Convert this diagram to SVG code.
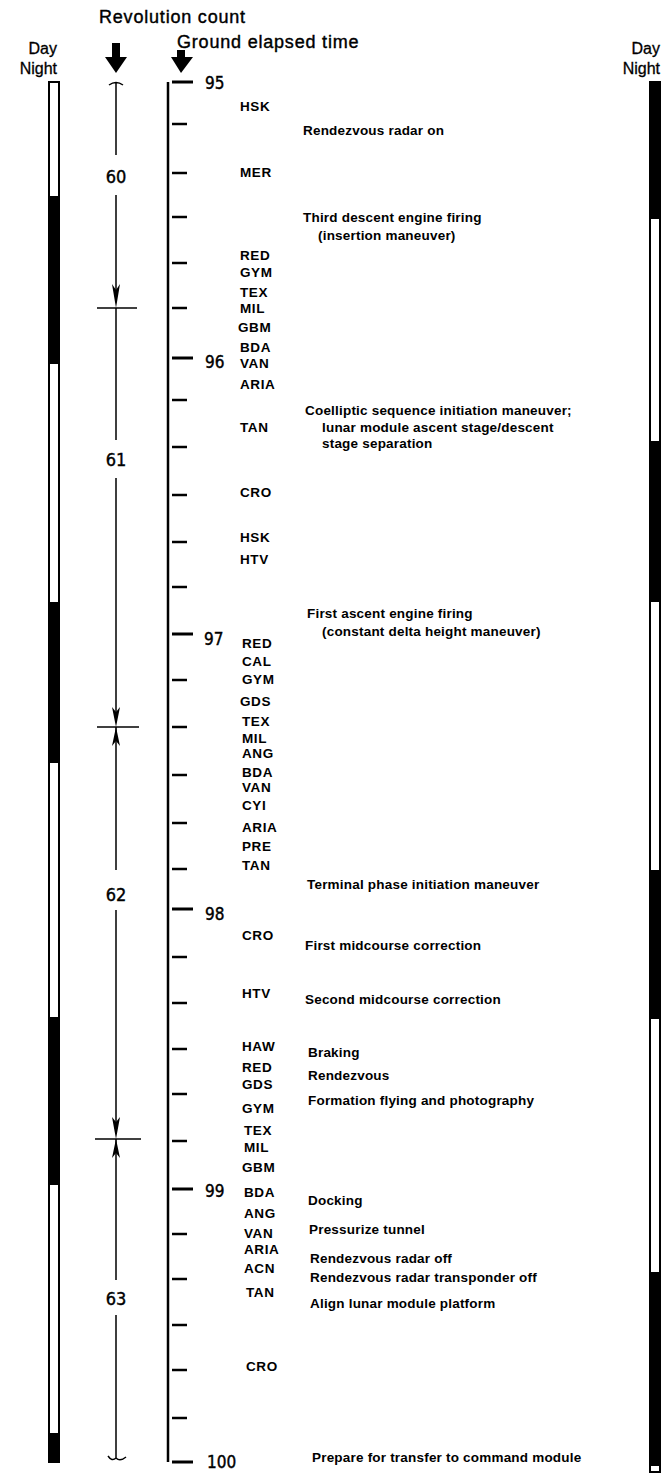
<svg xmlns="http://www.w3.org/2000/svg" width="663" height="1474" viewBox="0 0 663 1474">
<style>
text{fill:#000}
.hdr{font-family:"Liberation Sans",Arial,sans-serif;font-size:18px;font-weight:normal;letter-spacing:0.8px;stroke:#000;stroke-width:0.4}
.dn{font-family:"Liberation Sans",Arial,sans-serif;font-size:16px;text-anchor:end;stroke:#000;stroke-width:0.3}
.num{font-family:"DejaVu Sans Condensed","Liberation Sans Narrow","Liberation Sans",sans-serif;font-size:17px;font-weight:normal;stroke:#000;stroke-width:0.4}
.rev{font-family:"DejaVu Sans Condensed","Liberation Sans Narrow","Liberation Sans",sans-serif;font-size:18px;font-weight:normal;text-anchor:middle;stroke:#000;stroke-width:0.4}
.code{font-family:"Liberation Sans",Arial,sans-serif;font-size:13.5px;font-weight:bold;letter-spacing:0.6px}
.ev{font-family:"Liberation Sans",Arial,sans-serif;font-size:13.5px;font-weight:bold;letter-spacing:0.2px}
.bar{fill:#fff;stroke:#000;stroke-width:2}
.night{fill:#000}
.ln{stroke:#000;stroke-width:1.5;fill:none}
.axis{stroke:#000;stroke-width:2.5}
.maj{stroke:#000;stroke-width:3}
.min{stroke:#000;stroke-width:2.5}
</style>
<g id="headers">
<text class="hdr" x="99" y="23">Revolution count</text>
<text class="hdr" x="177" y="48">Ground elapsed time</text>
<text class="dn" x="57" y="54">Day</text>
<text class="dn" x="57" y="74">Night</text>
<text class="dn" x="660" y="54">Day</text>
<text class="dn" x="660" y="74">Night</text>
<path d="M112,43 H120 V57 H127 L116,73 L105,57 H112 Z" fill="#000"/>
<path d="M177,50 H185 V57 H193 L181,73 L171,57 H177 Z" fill="#000"/>
</g>
<g id="left-bar">
<rect class="bar" x="49" y="82" width="10" height="1380"/>
<rect class="night" x="49" y="196" width="10" height="168"/>
<rect class="night" x="49" y="602" width="10" height="161"/>
<rect class="night" x="49" y="1017" width="10" height="168"/>
<rect class="night" x="49" y="1433" width="10" height="29"/>
</g>
<g id="right-bar">
<rect class="bar" x="650" y="82" width="10" height="1390"/>
<rect class="night" x="649" y="82" width="12" height="137"/>
<rect class="night" x="649" y="441" width="12" height="161"/>
<rect class="night" x="649" y="870" width="12" height="149"/>
<rect class="night" x="649" y="1272" width="12" height="194"/>
</g>
<g id="revolution-count">
<path class="ln" d="M109,85 Q116,80 123,85 M116,82 V155 M116,195 V300 M116,308 V440 M116,478 V720 M116,727 V870 M116,910 V1132 M116,1139 V1280 M116,1315 V1458 M108,1456 Q112,1462 116,1458 Q120,1462 126,1457"/>
<path d="M116,308 L112,284 L116,290 L120,284 Z" fill="#000"/>
<path d="M97,308 H137" class="ln"/>
<path d="M116,727 L112,707 L116,712 L120,707 Z M116,727 L112,746 L116,741 L120,746 Z" fill="#000"/>
<path d="M97,727 H139" class="ln"/>
<path d="M116,1139 L112,1117 L116,1122 L120,1117 Z M116,1139 L112,1158 L116,1153 L120,1158 Z" fill="#000"/>
<path d="M95,1139 H141" class="ln"/>
<text class="rev" x="116" y="183">60</text>
<text class="rev" x="116" y="466">61</text>
<text class="rev" x="116" y="901">62</text>
<text class="rev" x="116" y="1305">63</text>
</g>
<g id="time-axis">
<line class="axis" x1="168" y1="82" x2="168" y2="1462"/>
<g class="maj">
<line x1="172" y1="82" x2="193" y2="82"/>
<line x1="172" y1="358" x2="193" y2="358"/>
<line x1="172" y1="634" x2="193" y2="634"/>
<line x1="172" y1="909" x2="193" y2="909"/>
<line x1="172" y1="1189" x2="193" y2="1189"/>
<line x1="172" y1="1462" x2="193" y2="1462"/>
</g>
<g class="min">
<line x1="172" y1="124" x2="187" y2="124"/>
<line x1="172" y1="173" x2="187" y2="173"/>
<line x1="172" y1="217" x2="187" y2="217"/>
<line x1="172" y1="263" x2="187" y2="263"/>
<line x1="172" y1="308" x2="187" y2="308"/>
<line x1="172" y1="400" x2="187" y2="400"/>
<line x1="172" y1="447" x2="187" y2="447"/>
<line x1="172" y1="495" x2="187" y2="495"/>
<line x1="172" y1="542" x2="187" y2="542"/>
<line x1="172" y1="587" x2="187" y2="587"/>
<line x1="172" y1="680" x2="187" y2="680"/>
<line x1="172" y1="727" x2="187" y2="727"/>
<line x1="172" y1="775" x2="187" y2="775"/>
<line x1="172" y1="823" x2="187" y2="823"/>
<line x1="172" y1="869" x2="187" y2="869"/>
<line x1="172" y1="957" x2="187" y2="957"/>
<line x1="172" y1="1003" x2="187" y2="1003"/>
<line x1="172" y1="1049" x2="187" y2="1049"/>
<line x1="172" y1="1094" x2="187" y2="1094"/>
<line x1="172" y1="1141" x2="187" y2="1141"/>
<line x1="172" y1="1234" x2="187" y2="1234"/>
<line x1="172" y1="1279" x2="187" y2="1279"/>
<line x1="172" y1="1325" x2="187" y2="1325"/>
<line x1="172" y1="1370" x2="187" y2="1370"/>
<line x1="172" y1="1418" x2="187" y2="1418"/>
</g>
<text class="num" x="205" y="89">95</text>
<text class="num" x="205" y="368">96</text>
<text class="num" x="204" y="645">97</text>
<text class="num" x="205" y="920">98</text>
<text class="num" x="205" y="1197">99</text>
<text class="num" x="207" y="1468">100</text>
</g>
<g id="stations">
<text class="code" x="240" y="111">HSK</text>
<text class="code" x="240" y="177">MER</text>
<text class="code" x="240" y="260">RED</text>
<text class="code" x="240" y="277">GYM</text>
<text class="code" x="240" y="297">TEX</text>
<text class="code" x="240" y="313">MIL</text>
<text class="code" x="238" y="332">GBM</text>
<text class="code" x="240" y="352">BDA</text>
<text class="code" x="240" y="368">VAN</text>
<text class="code" x="240" y="389">ARIA</text>
<text class="code" x="240" y="432">TAN</text>
<text class="code" x="240" y="497">CRO</text>
<text class="code" x="240" y="542">HSK</text>
<text class="code" x="240" y="564">HTV</text>
<text class="code" x="242" y="648">RED</text>
<text class="code" x="242" y="666">CAL</text>
<text class="code" x="242" y="684">GYM</text>
<text class="code" x="240" y="706">GDS</text>
<text class="code" x="242" y="726">TEX</text>
<text class="code" x="242" y="743">MIL</text>
<text class="code" x="242" y="758">ANG</text>
<text class="code" x="242" y="777">BDA</text>
<text class="code" x="242" y="792">VAN</text>
<text class="code" x="242" y="810">CYI</text>
<text class="code" x="242" y="832">ARIA</text>
<text class="code" x="242" y="851">PRE</text>
<text class="code" x="242" y="870">TAN</text>
<text class="code" x="242" y="940">CRO</text>
<text class="code" x="242" y="998">HTV</text>
<text class="code" x="242" y="1051">HAW</text>
<text class="code" x="242" y="1072">RED</text>
<text class="code" x="242" y="1089">GDS</text>
<text class="code" x="242" y="1113">GYM</text>
<text class="code" x="244" y="1135">TEX</text>
<text class="code" x="244" y="1152">MIL</text>
<text class="code" x="242" y="1172">GBM</text>
<text class="code" x="244" y="1197">BDA</text>
<text class="code" x="244" y="1218">ANG</text>
<text class="code" x="244" y="1238">VAN</text>
<text class="code" x="244" y="1254">ARIA</text>
<text class="code" x="244" y="1273">ACN</text>
<text class="code" x="246" y="1297">TAN</text>
<text class="code" x="246" y="1371">CRO</text>
</g>
<g id="events">
<text class="ev" x="303" y="135">Rendezvous radar on</text>
<text class="ev" x="303" y="222">Third descent engine firing</text>
<text class="ev" x="318" y="240">(insertion maneuver)</text>
<text class="ev" x="305" y="415">Coelliptic sequence initiation maneuver;</text>
<text class="ev" x="322" y="432">lunar module ascent stage/descent</text>
<text class="ev" x="322" y="448">stage separation</text>
<text class="ev" x="307" y="618">First ascent engine firing</text>
<text class="ev" x="322" y="636">(constant delta height maneuver)</text>
<text class="ev" x="307" y="889">Terminal phase initiation maneuver</text>
<text class="ev" x="305" y="950">First midcourse correction</text>
<text class="ev" x="305" y="1004">Second midcourse correction</text>
<text class="ev" x="308" y="1057">Braking</text>
<text class="ev" x="308" y="1080">Rendezvous</text>
<text class="ev" x="308" y="1105">Formation flying and photography</text>
<text class="ev" x="308" y="1205">Docking</text>
<text class="ev" x="309" y="1234">Pressurize tunnel</text>
<text class="ev" x="310" y="1263">Rendezvous radar off</text>
<text class="ev" x="310" y="1282">Rendezvous radar transponder off</text>
<text class="ev" x="310" y="1308">Align lunar module platform</text>
<text class="ev" x="312" y="1462">Prepare for transfer to command module</text>
</g>
</svg>
